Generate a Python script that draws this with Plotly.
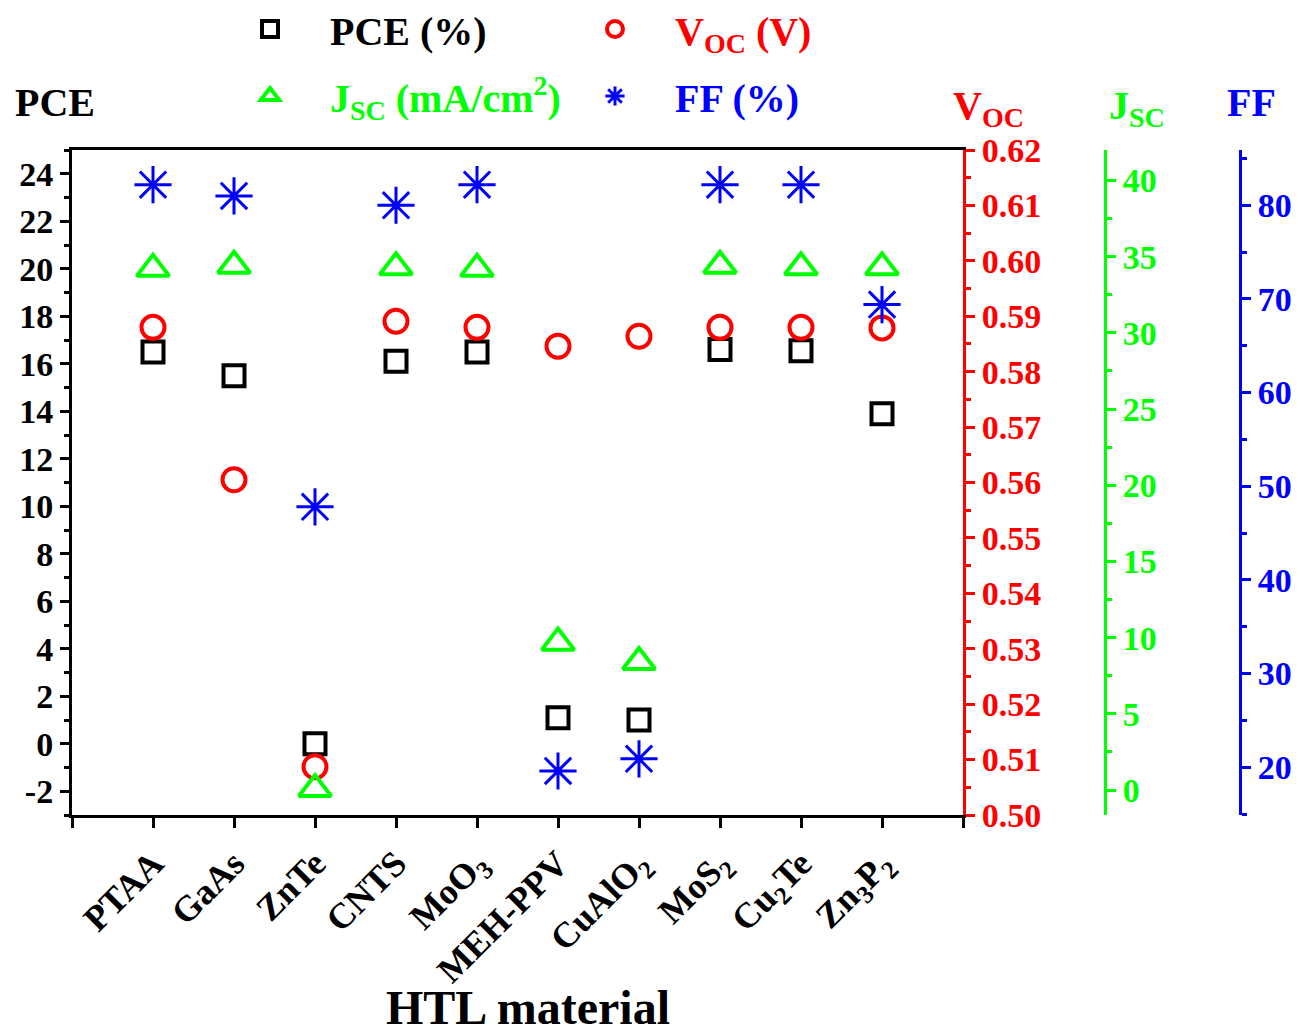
import plotly.graph_objects as go

categories = ["PTAA", "GaAs", "ZnTe", "CNTS", "MoO<sub>3</sub>", "MEH-PPV",
              "CuAlO<sub>2</sub>", "MoS<sub>2</sub>", "Cu<sub>2</sub>Te", "Zn<sub>3</sub>P<sub>2</sub>"]
pce = [16.5, 15.5, 0.0, 16.1, 16.5, 1.1, 1.0, 16.6, 16.55, 13.9]
voc = [0.588, 0.5605, 0.5087, 0.5891, 0.588, 0.5846, 0.5864, 0.588, 0.588, 0.5879]
jsc = [34.2, 34.4, 0.07, 34.3, 34.2, 9.67, 8.4, 34.4, 34.3, 34.3]
ff = [82.2, 81.0, 47.8, 80.0, 82.2, 19.6, 20.9, 82.2, 82.2, 69.4]

pce_ticks = list(range(-2, 25, 2))
pce_ticktext = [str(v) if v >= 0 else "-" + str(-v) for v in pce_ticks]

xpos = list(range(len(categories)))

FONT = "Liberation Serif"
BLACK, RED, GREEN, BLUE = "#000000", "#FF0000", "#00FF00", "#0000FF"
TICK = 34
SP = "\u00a0" * 4

fig = go.Figure()
fig.add_trace(go.Scatter(x=xpos, y=pce, mode="markers", name=SP + "PCE (%)",
                         marker=dict(symbol="square-open", size=21, color=BLACK, line=dict(width=4, color=BLACK)),
                         yaxis="y", legend="legend"))
fig.add_trace(go.Scatter(x=xpos, y=voc, mode="markers",
                         name=SP + "<span style='color:#FF0000'>V<sub>OC</sub> (V)</span>",
                         marker=dict(symbol="circle-open", size=23, color=RED, line=dict(width=4, color=RED)),
                         yaxis="y2", legend="legend"))
fig.add_trace(go.Scatter(x=xpos, y=jsc, mode="markers",
                         name=SP + "<span style='color:#00FF00'>J<sub>SC</sub> (mA/cm<sup>2</sup>)</span>",
                         marker=dict(symbol="triangle-up-open", size=28, color=GREEN, line=dict(width=4, color=GREEN)),
                         yaxis="y3", legend="legend2"))
fig.add_trace(go.Scatter(x=xpos, y=ff, mode="markers",
                         name=SP + "<span style='color:#0000FF'>FF (%)</span>",
                         marker=dict(symbol="asterisk-open", size=31, color=BLUE, line=dict(width=3, color=BLUE)),
                         yaxis="y4", legend="legend2"))

OFF = 8  # page body margin
W, H = 1302 - OFF, 1035 - OFF
ML, MR, MT = 72 - OFF, 0, 150 - OFF
MB = H - (815 - OFF)
pw = W - ML - MR
ph = H - MT - MB
def px(x):
    return (x - OFF - ML) / pw
def py(y):
    return (H - MB - (y - OFF)) / ph

xdom_end = px(963)

def yax(color, rng, dtick, minor, side, **kw):
    d = dict(range=rng, dtick=dtick, showgrid=False, zeroline=False, showline=True,
             linecolor=color, linewidth=3, ticks="outside", ticklen=9, tickwidth=3,
             tickcolor=color, side=side,
             tickfont=dict(family=FONT, size=TICK, color=color, weight="bold"),
             minor=dict(dtick=minor, ticks="outside", ticklen=5, tickwidth=2.5, tickcolor=color),
             automargin=False)
    d.update(kw)
    return d

legend_common = dict(orientation="h", xanchor="left", yanchor="middle",
                     entrywidth=300, entrywidthmode="pixels", itemsizing="trace",
                     font=dict(family=FONT, size=40, color=BLACK, weight="bold"),
                     bgcolor="rgba(0,0,0,0)")

fig.update_layout(
    width=W, height=H,
    margin=dict(l=ML, r=MR, t=MT, b=MB, autoexpand=False),
    plot_bgcolor="white", paper_bgcolor="white",
    xaxis=dict(domain=[0, xdom_end], range=[-1, 10], tickmode="array",
               tickvals=list(range(-1, 11)), ticktext=[""] + categories + [""],
               tickangle=-45, showgrid=False, zeroline=False, showline=True,
               linecolor=BLACK, linewidth=3, mirror=True, ticks="outside", ticklen=10,
               tickwidth=3, tickcolor=BLACK,
               tickfont=dict(family=FONT, size=36, color=BLACK, weight="bold"),
               automargin=False),
    yaxis=yax(BLACK, [-3, 25], 2, 1, "left", mirror=True, tickmode="array",
              tickvals=pce_ticks, ticktext=pce_ticktext),
    yaxis2=yax(RED, [0.50, 0.62], 0.01, 0.005, "right", overlaying="y", anchor="x",
               tickformat=".2f"),
    yaxis3=yax(GREEN, [-1.64, 42.0], 5, 2.5, "right", overlaying="y", anchor="free",
               position=px(1105)),
    yaxis4=yax(BLUE, [14.9, 85.9], 10, 5, "right", overlaying="y", anchor="free",
               position=px(1240)),
    legend=dict(x=px(250), y=py(29), **legend_common),
    legend2=dict(x=px(250), y=py(96), **legend_common),
    showlegend=True,
)

def ann(text, x, y, color, size=40):
    fig.add_annotation(text=text, x=px(x), y=py(y), xref="paper", yref="paper",
                       xanchor="center", yanchor="middle", showarrow=False,
                       font=dict(family=FONT, size=size, weight="bold", color=color))

ann("PCE", 55, 103, BLACK)
ann("V<sub>OC</sub>", 988, 108, RED)
ann("J<sub>SC</sub>", 1137, 108, GREEN)
ann("FF", 1251, 102, BLUE)
ann("HTL material", 528, 1007, BLACK, size=48)

fig.write_html("out.html")
